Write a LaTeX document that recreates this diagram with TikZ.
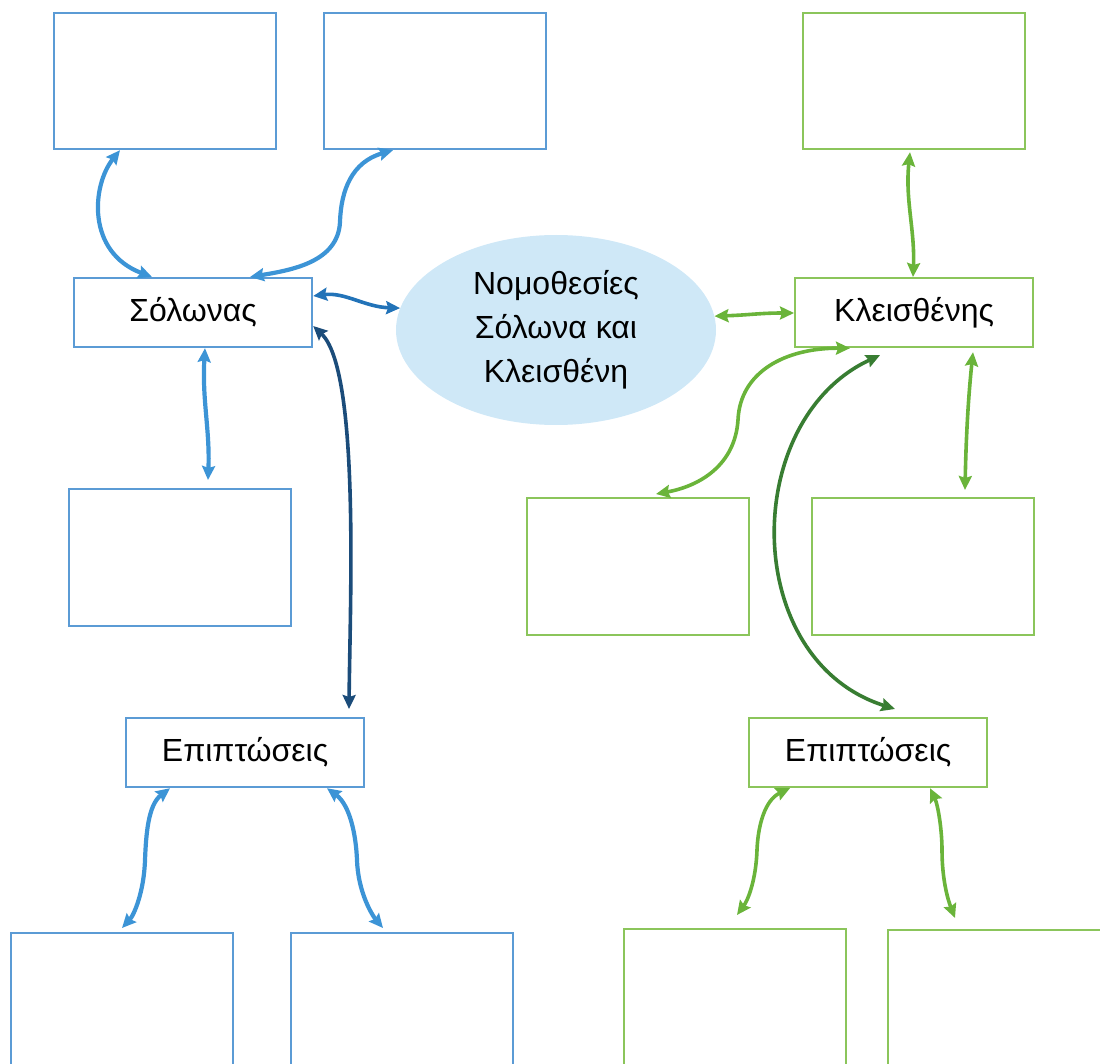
\documentclass[tikz,border=0pt]{standalone}
\usepackage{fontspec}
\setmainfont{Liberation Sans}
\usetikzlibrary{arrows.meta,shapes.geometric}
\definecolor{bbox}{HTML}{5B9BD5}
\definecolor{barr}{HTML}{3C94D6}
\definecolor{bdark}{HTML}{2273B8}
\definecolor{navy}{HTML}{1B4C7A}
\definecolor{gbox}{HTML}{8BC55B}
\definecolor{garr}{HTML}{6AB43A}
\definecolor{gdark}{HTML}{387D32}
\definecolor{ellfill}{HTML}{CFE8F7}
\begin{document}
\begin{tikzpicture}[x=1pt,y=-1pt,
  emptybox/.style={draw,line width=2.2pt,inner sep=0pt,anchor=north west,minimum width=222pt,minimum height=136pt},
  lblbox/.style={draw,line width=2.2pt,inner sep=0pt,anchor=north west,minimum width=238pt,minimum height=69pt,font=\fontsize{32}{38}\selectfont},
  conn/.style={line width=4.2pt,{Triangle[length=14pt,width=13pt,inset=2pt]}-{Triangle[length=14pt,width=13pt,inset=2pt]}}
]
\useasboundingbox (0,0) rectangle (1100,1064);
\clip (0,0) rectangle (1100,1064);
% blue boxes
\node[emptybox,draw=bbox] (tl1) at (53,12) {};
\node[emptybox,draw=bbox] (tl2) at (323,12) {};
\node[lblbox,draw=bbox] (solon) at (73,277) {Σόλωνας};
\node[emptybox,draw=bbox,minimum height=137pt] (ml) at (68,488) {};
\node[lblbox,draw=bbox] (epl) at (125,717) {Επιπτώσεις};
\node[emptybox,draw=bbox,minimum height=150pt] (bl1) at (10,932) {};
\node[emptybox,draw=bbox,minimum height=150pt] (bl2) at (290,932) {};
% green boxes
\node[emptybox,draw=gbox] (tr) at (802,12) {};
\node[lblbox,draw=gbox] (kleis) at (794,277) {Κλεισθένης};
\node[emptybox,draw=gbox,minimum height=137pt] (mr1) at (526,497) {};
\node[emptybox,draw=gbox,minimum height=137pt] (mr2) at (811,497) {};
\node[lblbox,draw=gbox] (epr) at (748,717) {Επιπτώσεις};
\node[emptybox,draw=gbox,minimum height=150pt] (br1) at (623,928) {};
\node[emptybox,draw=gbox,minimum height=150pt] (br2) at (887,929) {};
% ellipse
\node[ellipse,fill=ellfill,minimum width=320pt,minimum height=190pt,inner sep=0pt,align=center,font=\fontsize{32}{44}\selectfont] (ell) at (556,330) {Νομοθεσίες\\Σόλωνα και\\Κλεισθένη};
% blue connectors
\draw[conn,barr] ([xshift=67pt]tl1.south west) .. controls (92,185) and (86,252) .. ([xshift=79pt]solon.north west);
\draw[conn,barr] ([xshift=70pt]tl2.south west) .. controls (352,162) and (341,190) .. (340,222) .. controls (338,262) and (292,270) .. ([xshift=177pt]solon.north west);
\draw[conn,bdark,line width=3.6pt] ([yshift=-19pt]solon.north east) .. controls (345,292) and (365,307) .. (ell.172);
\draw[conn,barr] ([xshift=132pt]solon.south west) .. controls (202,400) and (210,430) .. ([xshift=140pt,yshift=8pt]ml.north west);
\draw[conn,navy,line width=3.6pt] ([yshift=-49pt]solon.north east) .. controls (360,370) and (350,600) .. ([xshift=224pt,yshift=8pt]epl.north west);
\draw[conn,barr] ([xshift=45pt]epl.south west) .. controls (148,805) and (146,835) .. (145,860) .. controls (144,892) and (134,915) .. ([xshift=112pt,yshift=4pt]bl1.north west);
\draw[conn,barr] ([xshift=202pt]epl.south west) .. controls (350,805) and (356,835) .. (357,860) .. controls (358,892) and (372,915) .. ([xshift=93pt,yshift=4pt]bl2.north west);
% green connectors
\draw[conn,garr,line width=3.6pt] (ell.5) .. controls (750,315) and (760,313) .. ([yshift=-36pt]kleis.north west);
\draw[conn,garr,line width=3.6pt] ([xshift=108pt,yshift=-2pt]tr.south west) .. controls (905,200) and (915,230) .. ([xshift=119pt]kleis.north west);
\draw[conn,garr,line width=3.6pt] ([xshift=56pt]kleis.south west) .. controls (785,348) and (740,372) .. (738,420) .. controls (735,465) and (700,486) .. ([xshift=130pt,yshift=3pt]mr1.north west);
\draw[conn,gdark,line width=3.6pt] ([xshift=86pt,yshift=-7pt]kleis.south west) .. controls (740,420) and (740,660) .. ([xshift=147pt,yshift=8pt]epr.north west);
\draw[conn,garr,line width=3.6pt] ([xshift=179pt,yshift=-4pt]kleis.south west) .. controls (968,400) and (966,440) .. ([xshift=154pt,yshift=7pt]mr2.north west);
\draw[conn,garr,line width=3.6pt] ([xshift=42pt]epr.south west) .. controls (765,800) and (758,825) .. (757,850) .. controls (756,880) and (748,900) .. ([xshift=114pt,yshift=13pt]br1.north west);
\draw[conn,garr,line width=3.6pt] ([xshift=182pt]epr.south west) .. controls (938,805) and (942,830) .. (942,850) .. controls (942,880) and (948,900) .. ([xshift=68pt,yshift=11pt]br2.north west);
\end{tikzpicture}
\end{document}
